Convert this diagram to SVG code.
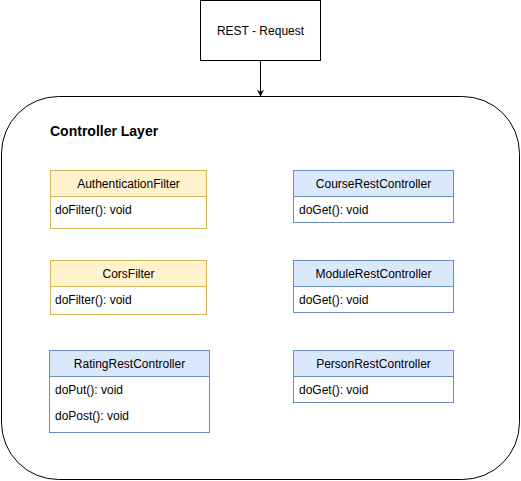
<svg xmlns="http://www.w3.org/2000/svg" width="521" height="481" viewBox="0 0 521 481">
<defs>
<style>
text{font-family:"Liberation Sans",Arial,sans-serif;font-size:12px;fill:#000}
.c{text-anchor:middle}
.y{fill:#fff2cc;stroke:#d6b656;stroke-width:1}
.b{fill:#dae8fc;stroke:#6c8ebf;stroke-width:1}
.yw{fill:#fff;stroke:#d6b656;stroke-width:1}
.bw{fill:#fff;stroke:#6c8ebf;stroke-width:1}
</style>
<marker id="ah" viewBox="0 0 10 10" refX="9" refY="5" markerWidth="7" markerHeight="7" orient="auto" markerUnits="userSpaceOnUse">
<path d="M0,0 L10,5 L0,10 L3,5 Z" fill="#000"/>
</marker>
</defs>
<rect width="521" height="481" fill="#fff"/>
<g id="layer">
<rect x="1.5" y="96.5" width="518" height="383" rx="57" ry="57" fill="#fff" stroke="#000"/>
<text x="50" y="136" style="font-weight:bold;font-size:14px">Controller Layer</text>
</g>
<g id="rest">
<rect x="200.5" y="0.5" width="120" height="60" fill="#fff" stroke="#000"/>
<text x="260.5" y="35" class="c">REST - Request</text>
</g>
<g id="connectors">
<line x1="260.5" y1="61" x2="260.5" y2="96" stroke="#000" marker-end="url(#ah)"/>
</g>
<g id="auth">
<rect x="50.5" y="170.5" width="156" height="58" class="yw"/>
<rect x="50.5" y="170.5" width="156" height="26" class="y"/>
<text x="128.5" y="188" class="c">AuthenticationFilter</text>
<text x="55" y="214">doFilter(): void</text>
</g>
<g id="cors">
<rect x="50.5" y="260.5" width="156" height="54" class="yw"/>
<rect x="50.5" y="260.5" width="156" height="26" class="y"/>
<text x="128.5" y="278" class="c">CorsFilter</text>
<text x="55" y="304">doFilter(): void</text>
</g>
<g id="rating">
<rect x="49.5" y="350.5" width="160" height="82" class="bw"/>
<rect x="49.5" y="350.5" width="160" height="26" class="b"/>
<text x="129.5" y="368" class="c">RatingRestController</text>
<text x="55" y="394">doPut(): void</text>
<text x="55" y="420">doPost(): void</text>
</g>
<g id="course">
<rect x="293.5" y="170.5" width="160" height="52" class="bw"/>
<rect x="293.5" y="170.5" width="160" height="26" class="b"/>
<text x="373.5" y="188" class="c">CourseRestController</text>
<text x="299" y="214">doGet(): void</text>
</g>
<g id="module">
<rect x="293.5" y="260.5" width="160" height="52" class="bw"/>
<rect x="293.5" y="260.5" width="160" height="26" class="b"/>
<text x="373.5" y="278" class="c">ModuleRestController</text>
<text x="299" y="304">doGet(): void</text>
</g>
<g id="person">
<rect x="293.5" y="350.5" width="160" height="52" class="bw"/>
<rect x="293.5" y="350.5" width="160" height="26" class="b"/>
<text x="373.5" y="368" class="c">PersonRestController</text>
<text x="299" y="394">doGet(): void</text>
</g>
</svg>
